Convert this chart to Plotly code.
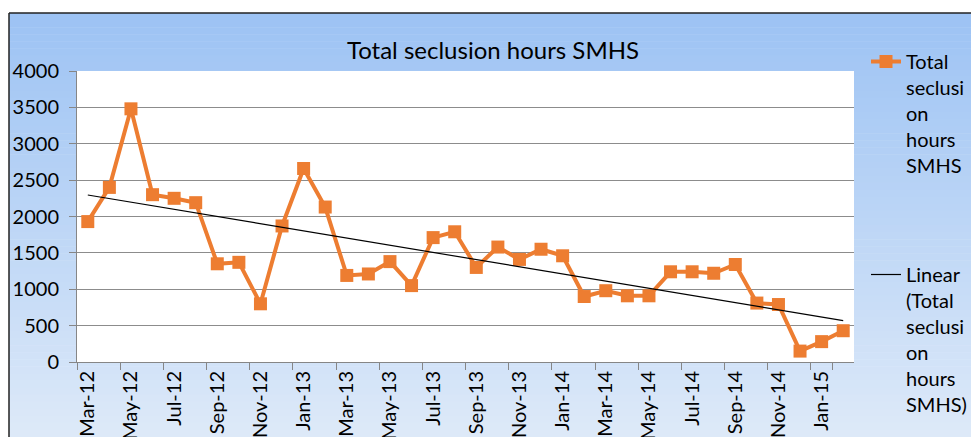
import numpy as np
import plotly.graph_objects as go

months = ["Mar-12","Apr-12","May-12","Jun-12","Jul-12","Aug-12","Sep-12","Oct-12","Nov-12","Dec-12",
          "Jan-13","Feb-13","Mar-13","Apr-13","May-13","Jun-13","Jul-13","Aug-13","Sep-13","Oct-13",
          "Nov-13","Dec-13","Jan-14","Feb-14","Mar-14","Apr-14","May-14","Jun-14","Jul-14","Aug-14",
          "Sep-14","Oct-14","Nov-14","Dec-14","Jan-15","Feb-15"]
hours = [1930, 2400, 3480, 2300, 2250, 2190, 1350, 1370, 800, 1870,
         2660, 2130, 1190, 1210, 1380, 1050, 1710, 1790, 1300, 1580,
         1410, 1550, 1460, 900, 980, 910, 910, 1240, 1240, 1220,
         1340, 810, 790, 150, 280, 430]
tick_labels = months[::2]
y_ticks = [0, 500, 1000, 1500, 2000, 2500, 3000, 3500, 4000]

idx = np.arange(len(hours))
slope, intercept = np.polyfit(idx, hours, 1)
trend = slope * idx + intercept

W, H = 971, 437
L, R, T, B = 77, 854, 71, 362  # plot area in pixels
FONT = "Lato"
FS = 20

def px2x(px):
    return (px - L) / (R - L)

def py2y(py):
    return (B - py) / (B - T)

def py2c(py):
    return (H - py) / H

fig = go.Figure()
fig.add_trace(go.Scatter(
    x=months, y=hours, mode="lines+markers",
    name="Total<br>seclusi<br>on<br>hours<br>SMHS",
    line=dict(color="#ED7D31", width=4),
    marker=dict(symbol="square", size=13, color="#ED7D31"),
    legendgroup="a",
))
fig.add_trace(go.Scatter(
    x=months, y=trend, mode="lines",
    name="Linear<br>(Total<br>seclusi<br>on<br>hours<br>SMHS)",
    line=dict(color="black", width=1.2),
    legendgroup="b",
))

shapes = []
# gradient background
top_c = np.array([0x9D, 0xC3, 0xF4])
bot_c = np.array([0xDE, 0xEA, 0xF9])
n = 60
y0p, y1p = 13, H
for i in range(n):
    a = y0p + (y1p - y0p) * i / n
    b = y0p + (y1p - y0p) * (i + 1) / n
    t = (i + 0.5) / n
    c = top_c + (bot_c - top_c) * t
    shapes.append(dict(type="rect", xref="paper", yref="paper", layer="below",
                       x0=px2x(9), x1=px2x(W + 2), y0=py2y(b + 0.5), y1=py2y(a),
                       fillcolor="rgb(%d,%d,%d)" % tuple(c.astype(int)), line=dict(width=0)))
# plot area white
shapes.append(dict(type="rect", xref="paper", yref="paper", layer="below",
                   x0=0, x1=1, y0=0, y1=1, fillcolor="white", line=dict(width=0)))
# outer border
shapes.append(dict(type="line", xref="paper", yref="paper", x0=px2x(9), x1=px2x(W + 2),
                   y0=py2y(13), y1=py2y(13), line=dict(color="#222222", width=1.5)))
shapes.append(dict(type="line", xref="paper", yref="paper", x0=px2x(9), x1=px2x(9),
                   y0=py2y(13), y1=py2y(H + 2), line=dict(color="#222222", width=1.5)))

line_h = FS * 1.3
gap = (272 - 62) - 5 * line_h

fig.update_layout(
    width=W, height=H,
    margin=dict(l=L, r=W - R, t=T, b=H - B, pad=0, autoexpand=False),
    paper_bgcolor="white", plot_bgcolor="rgba(0,0,0,0)",
    font=dict(family=FONT, size=FS, color="black"),
    title=dict(text="Total seclusion hours SMHS", x=493 / W, xanchor="center",
               y=py2c(51), yanchor="middle", xref="container", yref="container",
               font=dict(family=FONT, size=24, color="black")),
    shapes=shapes,
    xaxis=dict(type="category", tickmode="array", tickvals=tick_labels, ticktext=tick_labels,
               tickangle=-90, ticks="outside", ticklen=7, tickcolor="#868686", tickson="boundaries",
               showgrid=False, showline=True, linecolor="#868686", linewidth=1,
               range=[-0.5, len(months) - 0.5], tickfont=dict(size=FS)),
    yaxis=dict(range=[0, 4000], tickvals=y_ticks, ticks="outside", ticklen=7, tickcolor="#868686",
               showgrid=True, gridcolor="#8C8C8C", gridwidth=1, showline=True, linecolor="#868686",
               zeroline=False, tickfont=dict(size=FS), ticklabelstandoff=6),
    legend=dict(x=px2x(866), y=py2c(42), xanchor="left", yanchor="top", valign="top",
                yref="container", maxheight=420,
                traceorder="grouped", tracegroupgap=gap,
                bgcolor="rgba(0,0,0,0)", font=dict(size=FS)),
)

fig.write_html("out.html", config={"displayModeBar": False},
               post_script="document.body.style.margin='0';document.body.style.overflow='hidden';")
